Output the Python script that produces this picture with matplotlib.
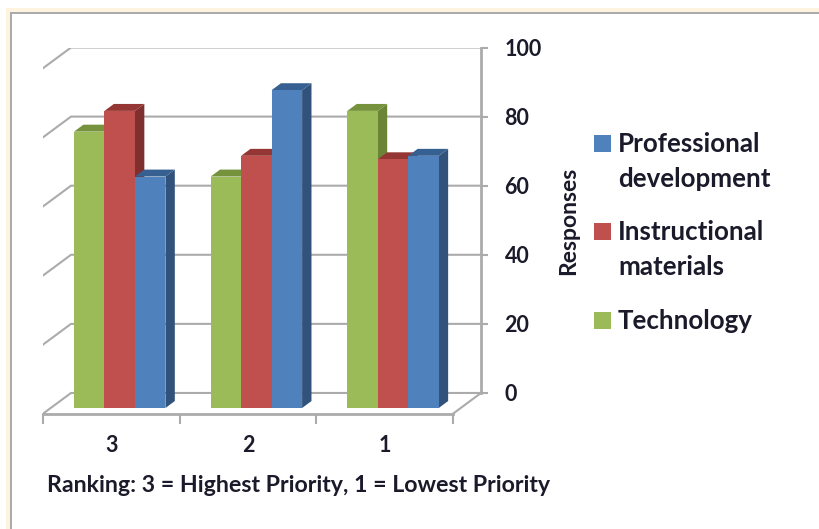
import matplotlib
matplotlib.use("Agg")
import matplotlib.pyplot as plt
from matplotlib.patches import Polygon, Rectangle

# -------------------------------
# Survey data
# -------------------------------
rankings = ["3", "2", "1"]
technology = [80, 67, 86]
instructional = [86, 73, 72]
professional = [67, 92, 73]
value_ticks = [0, 20, 40, 60, 80, 100]

legend_names = ["Professional\ndevelopment", "Instructional\nmaterials", "Technology"]

# front colour, top colour, side colour
GREEN = ("#9bbb59", "#76923c", "#6b8536")
RED = ("#c0504d", "#943634", "#7f2f2d")
BLUE = ("#4f81bd", "#376092", "#31527a")
GRID = "#ababab"
TEXT = "#1a1a2a"

W, H = 819, 529

plt.rcParams["font.family"] = ["Lato", "DejaVu Sans"]
plt.rcParams["font.weight"] = "bold"

fig = plt.figure(figsize=(W / 100, H / 100), dpi=100)
fig.patch.set_facecolor("white")

# outer frame, goes off the right and bottom of the page
fig.add_artist(Rectangle((6 / W, 0), (W - 6) / W, (H - 8) / H, transform=fig.transFigure,
                         fc="#fdf3df", ec="none", zorder=-3))
fig.add_artist(Rectangle((10 / W, 0), (W - 10) / W, (H - 12) / H, transform=fig.transFigure,
                         fc="#ababab", ec="none", zorder=-2))
fig.add_artist(Rectangle((12 / W, 0), (W - 12) / W, (H - 14) / H, transform=fig.transFigure,
                         fc="white", ec="none", zorder=-1))

# -------------------------------
# Axes: x in categories, y in responses, depth is a shift up and right
# -------------------------------
ax = fig.add_axes([43 / W, (H - 413.7) / H, 438 / W, 366.2 / H])
ax.patch.set_visible(False)
ax.set_xlim(0, 3.205)
ax.set_ylim(0, 106)

DX = 0.205
DY = 6.0


def project(x, v, d):
    return (x + d * DX, v + d * DY)


# back wall gridlines and the slanted side wall
for v in value_ticks:
    pts = [project(0, v, 0), project(0, v, 1), project(3, v, 1)]
    ax.plot(*zip(*pts), color=GRID, lw=1.5, solid_joinstyle="miter", zorder=1)

# floor edge on the right
ax.plot(*zip(project(3, 0, 0), project(3, 0, 1)), color=GRID, lw=1.5, zorder=1)

# -------------------------------
# Bars
# -------------------------------
BAR_W = 0.223
D_FRONT = 0.275
D_BACK = 0.61


def draw_bar(left, value, colors, z):
    front, top, side = colors
    right = left + BAR_W
    ax.add_patch(Polygon([project(right, 0, D_FRONT), project(right, 0, D_BACK),
                          project(right, value, D_BACK), project(right, value, D_FRONT)],
                         fc=side, ec="none", zorder=z))
    ax.add_patch(Polygon([project(left, value, D_FRONT), project(left, value, D_BACK),
                          project(right, value, D_BACK), project(right, value, D_FRONT)],
                         fc=top, ec="none", zorder=z))
    ax.add_patch(Polygon([project(left, 0, D_FRONT), project(right, 0, D_FRONT),
                          project(right, value, D_FRONT), project(left, value, D_FRONT)],
                         fc=front, ec="none", zorder=z + 0.1))


for i in range(len(rankings)):
    start = i + 0.505 - 1.5 * BAR_W
    draw_bar(start, technology[i], GREEN, 2)
    draw_bar(start + BAR_W, instructional[i], RED, 3)
    draw_bar(start + 2 * BAR_W, professional[i], BLUE, 4)

# -------------------------------
# Spines and ticks
# -------------------------------
for name in ["top", "left"]:
    ax.spines[name].set_visible(False)
ax.spines["right"].set_color(GRID)
ax.spines["right"].set_linewidth(2)
ax.spines["right"].set_bounds(DY, 100 + DY)
ax.spines["bottom"].set_color(GRID)
ax.spines["bottom"].set_linewidth(2)
ax.spines["bottom"].set_bounds(0, 3)

ax.yaxis.tick_right()
ax.set_yticks([v + DY for v in value_ticks])
ax.set_yticklabels([str(v) for v in value_ticks], fontsize=15.5, color=TEXT)
ax.tick_params(axis="y", length=5, width=1.5, color=GRID, pad=12)

ax.set_xticks([0, 1, 2, 3])
ax.set_xticklabels([])
ax.set_xticks([0.5, 1.5, 2.5], minor=True)
ax.set_xticklabels(rankings, minor=True, fontsize=15.5, color=TEXT)
ax.tick_params(axis="x", which="major", length=7, width=1.5, color=GRID)
ax.tick_params(axis="x", which="minor", length=0, pad=15)

# -------------------------------
# Labels and legend
# -------------------------------
fig.text(569 / W, 1 - 221 / H, "Responses", rotation=90, ha="center", va="center",
         fontsize=16.5, color=TEXT)
fig.text(47 / W, 1 - 485 / H, "Ranking: 3 = Highest Priority, 1 = Lowest Priority",
         ha="left", va="center", fontsize=16.7, color=TEXT)

legend_colors = [BLUE[0], RED[0], GREEN[0]]
legend_y = [144, 232, 321]
for name, color, y in zip(legend_names, legend_colors, legend_y):
    fig.add_artist(Rectangle((594 / W, 1 - (y + 8) / H), 17 / W, 17 / H,
                             transform=fig.transFigure, fc=color, ec="none"))
    fig.text(618 / W, 1 - (y - 12) / H, name, ha="left", va="top", fontsize=18.6,
             color=TEXT, linespacing=1.55)

fig.savefig("out.png", dpi=100)
plt.close(fig)
